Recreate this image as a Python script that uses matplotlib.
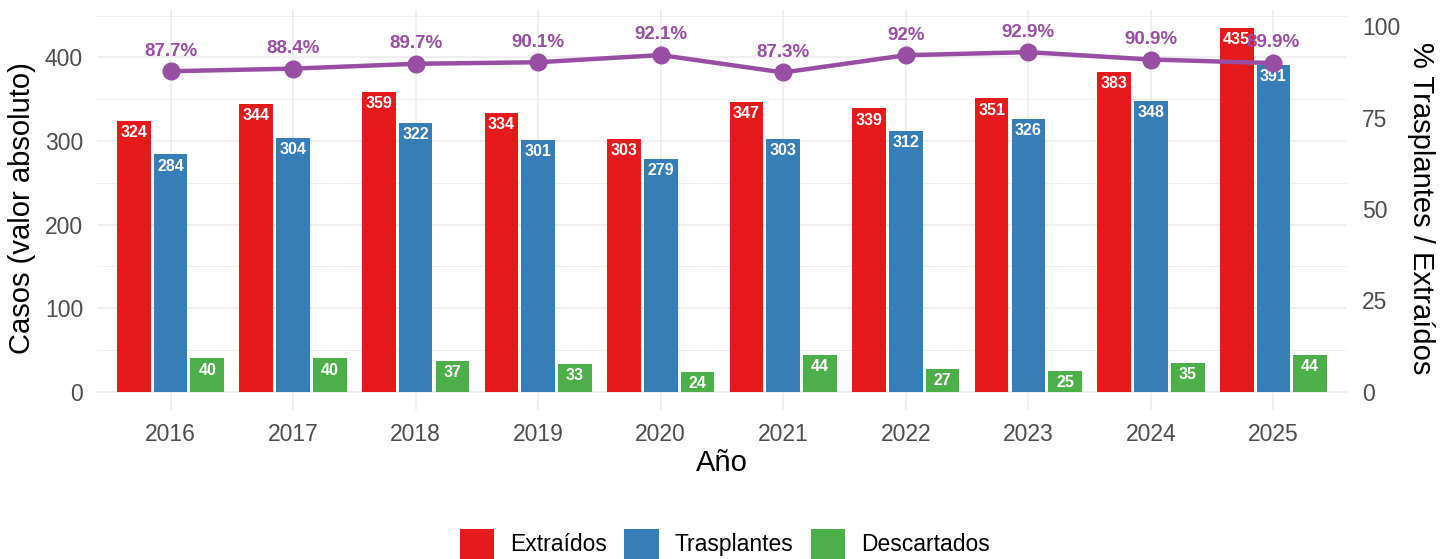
import numpy as np
import matplotlib
matplotlib.use('Agg')
import matplotlib.pyplot as plt
from matplotlib.patches import Patch
from matplotlib.ticker import MultipleLocator

plt.rcParams['font.family'] = ['Liberation Sans', 'DejaVu Sans']

# data
years = ['2016', '2017', '2018', '2019', '2020', '2021', '2022', '2023', '2024', '2025']
extraidos = [324, 344, 359, 334, 303, 347, 339, 351, 383, 435]
trasplantes = [284, 304, 322, 301, 279, 303, 312, 326, 348, 391]
descartados = [40, 40, 37, 33, 24, 44, 27, 25, 35, 44]
series_names = ['Extraídos', 'Trasplantes', 'Descartados']
colors = ['#E41A1C', '#377EB8', '#4DAF4A']
purple = '#984EA3'

pct = [100 * t / e for t, e in zip(trasplantes, extraidos)]
factor = 4.375  # secondary axis scale

x = np.arange(len(years))
W, H = 1450, 559
fig = plt.figure(figsize=(W / 100, H / 100), dpi=100)
ax = fig.add_axes([97 / W, 1 - 410 / H, 1250 / W, 400 / H])

slot = 0.3
for i, (vals, c) in enumerate(zip([extraidos, trasplantes, descartados], colors)):
    xs = x + (i - 1) * slot
    ax.bar(xs, vals, width=0.275, color=c, zorder=2)
    for xi, v in zip(xs, vals):
        ax.annotate(str(v), (xi, v), xytext=(0, -3), textcoords='offset points',
                    ha='center', va='top', color='white', fontsize=11.5,
                    fontweight='bold', zorder=3)

# percentage line
pct_y = [p * factor for p in pct]
ax.plot(x, pct_y, color=purple, lw=3.2, marker='o', ms=12, zorder=4)
for xi, yi, p in zip(x, pct_y, pct):
    ax.annotate(f"{round(p, 1):g}%", (xi, yi), xytext=(0, 14.5), textcoords='offset points',
                ha='center', va='center', color=purple, fontsize=13.5,
                fontweight='bold', zorder=5)

ax.set_xlim(-0.6, len(years) - 0.4)
ax.set_ylim(-max(extraidos) * 0.05, max(extraidos) * 1.05)
ax.set_xticks(x)
ax.set_xticklabels(years)
ax.yaxis.set_major_locator(MultipleLocator(100))
ax.yaxis.set_minor_locator(MultipleLocator(50))
ax.grid(which='major', color='#EBEBEB', lw=1.1, zorder=0)
ax.grid(which='minor', axis='y', color='#EBEBEB', lw=0.55, zorder=0)
ax.set_axisbelow(True)
for s in ax.spines.values():
    s.set_visible(False)
ax.tick_params(which='both', length=0, labelsize=16.5, labelcolor='#4D4D4D')
ax.tick_params(axis='x', pad=9.5)
ax.tick_params(axis='y', pad=10)

ax2 = ax.twinx()
lo, hi = ax.get_ylim()
ax2.set_ylim(lo / factor, hi / factor)
ax2.yaxis.set_major_locator(MultipleLocator(25))
for s in ax2.spines.values():
    s.set_visible(False)
ax2.tick_params(length=0, labelsize=16.5, labelcolor='#4D4D4D', pad=11)

# axis titles
fig.text(22 / W, 1 - 208 / H, 'Casos (valor absoluto)', rotation=90,
         ha='center', va='center', fontsize=21)
fig.text(1421 / W, 1 - 208 / H, '% Trasplantes / Extraídos', rotation=270,
         ha='center', va='center', fontsize=21)
fig.text((97 + 625) / W, 1 - 463 / H, 'Año', ha='center', va='center', fontsize=21)

handles = [Patch(facecolor=c, label=n) for c, n in zip(colors, series_names)]
fig.legend(handles=handles, loc='center', bbox_to_anchor=(0.5, 1 - 544 / H), ncol=3,
           frameon=False, fontsize=16.5, handlelength=1.5, handleheight=1.65,
           handletextpad=0.7, columnspacing=0.75, borderpad=0, borderaxespad=0)

fig.savefig('out.png', dpi=100)
